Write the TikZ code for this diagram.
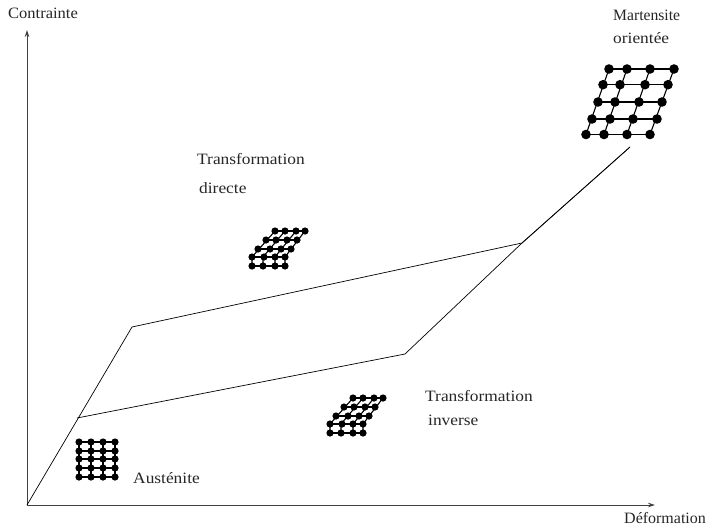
\documentclass[tikz,border=0pt]{standalone}
\usepackage{fontspec}
\usepackage{graphicx}
\setmainfont[FakeStretch=1.1]{Liberation Serif}
\usetikzlibrary{arrows.meta}
\tikzset{
  x=1pt,y=-1pt,
  latline/.style={line width=1.1pt},
  curve/.style={line width=0.7pt,line join=miter},
  axis/.style={line width=0.9pt,draw=black!75,-{Stealth[length=7pt,width=4.5pt]}},
  lab/.style={font=\fontsize{15.8pt}{18pt}\selectfont,anchor=base west,inner sep=0pt,text=black!85},
}
\begin{document}
\begin{tikzpicture}
\useasboundingbox (0,0) rectangle (717,530);
% axes
\coordinate (O) at (27,505);
\coordinate (Ytop) at (27,30);
\coordinate (Xend) at (655,505);
\draw[axis] (O) -- (Ytop);
\draw[axis] (O) -- (Xend);
% curve
\coordinate (A) at (132,327);
\coordinate (B) at (522,243);
\coordinate (C) at (630,147);
\coordinate (D) at (405,354);
\coordinate (E) at (77,418);
\draw[curve] (O) -- (A) -- (B) -- (C);
\draw[curve] (C) -- (B) -- (D) -- (E);
% labels
\node[lab] (ly) at (8,18) {\scalebox{0.95}[1]{Contrainte}};
\node[lab] (lx) at (624,523) {\scalebox{0.92}[1]{Déformation}};
\node[lab] (m1) at (613,20) {\scalebox{0.90}[1]{Martensite}};
\node[lab] (m2) at (613,43) {orientée};
\node[lab] (d1) at (197,164) {Transformation};
\node[lab] (d2) at (199,193) {directe};
\node[lab] (i1) at (425,401) {Transformation};
\node[lab] (i2) at (428,425) {inverse};
\node[lab] (au) at (133,483) {Austénite};
% Martensite lattice
\foreach \xa/\xb in {609/586,627/604,650/627,674/650}{
  \draw[latline] (\xa,69) -- (\xb,134.5);
}
\foreach \yy/\xa/\xb/\xc/\xd in {69/609/627/650/674,84.7/603/620/645/668,102/598/615/639/662,119/592/610/633/657,134.5/586/604/627/650}{
  \draw[latline] (\xa,\yy) -- (\xd,\yy);
  \foreach \xx in {\xa,\xb,\xc,\xd}{\fill (\xx,\yy) circle[radius=4.8];}
}
% Direct and inverse lattices
\foreach \dx/\dy in {0/0,78/167}{
  \begin{scope}[shift={(\dx,\dy)}]
    \foreach \xa/\xb in {275/252,285/263,296/275,305/285}{
      \draw[latline] (\xa,231) -- (\xb,257) -- (\xb,266);
    }
    \foreach \yy/\xa/\xb/\xc/\xd in {231/275/285/296/305,240/266/276/287/297,249/258/270/281/291,257/252/264/275/285,266/252/263/275/285}{
      \draw[latline] (\xa,\yy) -- (\xd,\yy);
      \foreach \xx in {\xa,\xb,\xc,\xd}{\fill (\xx,\yy) circle[radius=3.6];}
    }
  \end{scope}
}
% Austenite lattice
\foreach \yy in {442,451,459,468,477}{
  \draw[latline] (79,\yy) -- (115,\yy);
  \foreach \xx in {79,91,103,115}{\fill (\xx,\yy) circle[radius=3.6];}
}
\foreach \xx in {79,91,103,115}{\draw[latline] (\xx,442) -- (\xx,477);}
\end{tikzpicture}
\end{document}
